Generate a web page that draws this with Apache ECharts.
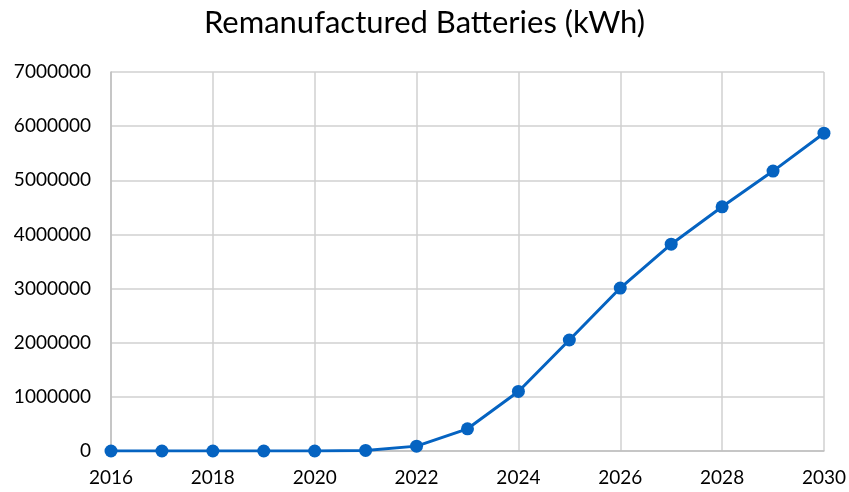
<!DOCTYPE html>
<html><head><meta charset="utf-8">
<script src="https://cdn.jsdelivr.net/npm/echarts@6/dist/echarts.min.js"></script>
<style>html,body{margin:0;padding:0;background:#fff}#c{width:849px;height:492px}</style>
</head><body><div id="c"></div>
<script>
const years = [2016,2017,2018,2019,2020,2021,2022,2023,2024,2025,2026,2027,2028,2029,2030];
const values = [0,0,0,0,0,10000,90000,410000,1100000,2050000,3010000,3820000,4510000,5170000,5870000];
const title = 'Remanufactured Batteries (kWh)';
const font = 'Lato, "Open Sans", sans-serif';
const chart = echarts.init(document.getElementById('c'));
chart.setOption({
  animation:false,
  title:{text:title,left:'center',top:2,textStyle:{fontFamily:font,fontSize:31,fontWeight:'normal',color:'#000'}},
  grid:{left:111,right:25,top:72,bottom:41,containLabel:false},
  xAxis:{type:'value',min:2016,max:2030,interval:2,
    axisLine:{show:true,lineStyle:{color:'#bfbfbf',width:1.5}},
    axisTick:{show:false},
    splitLine:{show:true,lineStyle:{color:'#d0d0d0',width:1.5}},
    axisLabel:{fontFamily:font,fontSize:19,color:'#000',margin:17,formatter:v=>String(v)}},
  yAxis:{type:'value',min:0,max:7000000,interval:1000000,
    axisLine:{show:true,lineStyle:{color:'#bfbfbf',width:1.5}},
    axisTick:{show:false},
    splitLine:{show:true,lineStyle:{color:'#d0d0d0',width:1.5}},
    axisLabel:{fontFamily:font,fontSize:19,color:'#000',margin:20,formatter:v=>String(v)}},
  series:[{type:'line',data:years.map((y,i)=>[y,values[i]]),
    symbol:'circle',symbolSize:13,
    lineStyle:{color:'#0563C1',width:3},
    itemStyle:{color:'#0563C1'}}]
});
</script></body></html>
